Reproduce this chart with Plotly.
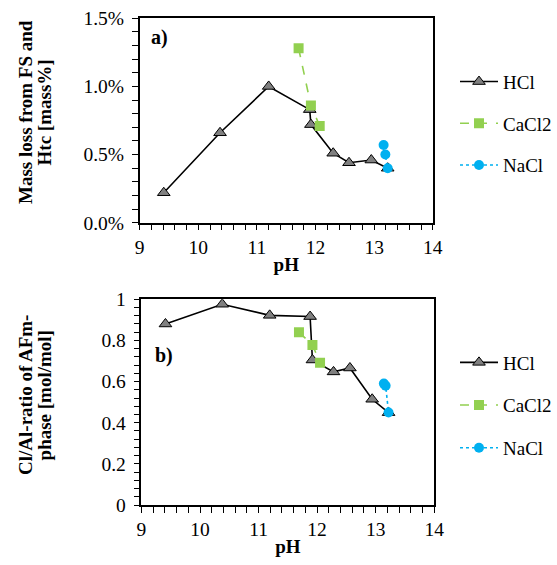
import plotly.graph_objects as go

# pH values and measured quantities for each acid / salt series
ph_hcl_a = [9.41, 10.37, 11.20, 11.90, 11.92, 12.30, 12.57, 12.95, 13.23]
loss_hcl = [0.22, 0.66, 1.00, 0.83, 0.72, 0.51, 0.44, 0.46, 0.40]
ph_cacl2_a = [11.71, 11.92, 12.07]
loss_cacl2 = [1.28, 0.86, 0.71]
ph_nacl_a = [13.16, 13.19, 13.23]
loss_nacl = [0.57, 0.50, 0.40]

ph_hcl_b = [9.41, 10.38, 11.19, 11.88, 11.92, 12.28, 12.56, 12.94, 13.22]
ratio_hcl = [0.88, 0.976, 0.922, 0.916, 0.705, 0.647, 0.666, 0.514, 0.449]
ph_cacl2_b = [11.69, 11.92, 12.05]
ratio_cacl2 = [0.84, 0.778, 0.692]
ph_nacl_b = [13.14, 13.17, 13.22]
ratio_nacl = [0.59, 0.58, 0.45]

series_names = ["HCl", "CaCl2", "NaCl"]

# y-axis titles, one entry per text line
title_a = ["Mass loss from FS and", "Htc [mass%]"]
title_b = ["Cl/Al-ratio of AFm-", "phase [mol/mol]"]

FONT = "Times New Roman, Liberation Serif, serif"
FS = 19
TICK_FS = 19.5

hcl_style = dict(mode="lines+markers",
                 line=dict(color="black", width=1.6),
                 marker=dict(symbol="triangle-up", size=11, color="#808080",
                             line=dict(color="black", width=1)))
cacl2_style = dict(mode="lines+markers",
                   line=dict(color="#92D050", width=1.6, dash="dash"),
                   marker=dict(symbol="square", size=10, color="#92D050"))
nacl_style = dict(mode="lines+markers",
                  line=dict(color="#00B0F0", width=1.6, dash="dot"),
                  marker=dict(symbol="circle", size=10, color="#00B0F0"))

fig = go.Figure()

panels = [
    ("x", "y", "legend", [(ph_hcl_a, loss_hcl), (ph_cacl2_a, loss_cacl2), (ph_nacl_a, loss_nacl)]),
    ("x2", "y2", "legend2", [(ph_hcl_b, ratio_hcl), (ph_cacl2_b, ratio_cacl2), (ph_nacl_b, ratio_nacl)]),
]
for xa, ya, leg, data in panels:
    for name, style, (xs, ys) in zip(series_names, [hcl_style, cacl2_style, nacl_style], data):
        fig.add_trace(go.Scatter(x=xs, y=ys, name=name, xaxis=xa, yaxis=ya,
                                 legend=leg, legendgroup=leg + name, **style))

xaxis_common = dict(range=[9, 14], dtick=1, showgrid=False, zeroline=False, automargin=False,
                    showline=True, linecolor="black", linewidth=1.5, mirror=True,
                    ticks="outside", ticklen=6, tickwidth=1, tickcolor="black",
                    minor=dict(dtick=0.2, ticks="outside", ticklen=6, tickcolor="black", tickwidth=1),
                    tickfont=dict(family=FONT, size=TICK_FS, color="black"),
                    title=dict(text="<b>pH</b>", font=dict(family=FONT, size=FS, color="black"),
                               standoff=1))
yaxis_common = dict(showgrid=False, zeroline=False, automargin=False,
                    showline=True, linecolor="black", linewidth=1.5, mirror=True,
                    ticks="outside", ticklen=6, tickwidth=1, tickcolor="black",
                    ticklabelstandoff=4,
                    tickfont=dict(family=FONT, size=TICK_FS, color="black"))


def title_lines(lines, yc):
    # rotated title, drawn line by line at a fixed spacing
    out = []
    for i, line in enumerate(lines):
        out.append(dict(text="<b>" + line + "</b>", x=(25 + 19.5 * i) / 557, y=yc,
                        xref="paper", yref="paper", xanchor="center", yanchor="middle",
                        textangle=-90, showarrow=False,
                        font=dict(family=FONT, size=FS, color="black")))
    return out


legend_common = dict(xanchor="left", yanchor="top", itemwidth=38,
                     font=dict(family=FONT, size=FS, color="black"),
                     bgcolor="rgba(0,0,0,0)")

fig.update_layout(
    width=557, height=565,
    margin=dict(l=0, r=0, t=0, b=0),
    paper_bgcolor="white", plot_bgcolor="white",
    xaxis=dict(domain=[0.2513, 0.7785], anchor="y", **xaxis_common),
    yaxis=dict(domain=[0.6058, 0.9676], anchor="x", range=[0, 1.5], dtick=0.5,
               tickformat=".1f", ticksuffix="%",
               minor=dict(dtick=0.1, ticks="outside", ticklen=6, tickcolor="black", tickwidth=1),
               **yaxis_common),
    xaxis2=dict(domain=[0.2544, 0.781], anchor="y2", **xaxis_common),
    yaxis2=dict(domain=[0.1062, 0.4703], anchor="x2", range=[0, 1], dtick=0.2,
                minor=dict(dtick=0.04, ticks="outside", ticklen=6, tickcolor="black", tickwidth=1),
                **yaxis_common),
    legend=dict(x=0.818, y=0.889, tracegroupgap=14, **legend_common),
    legend2=dict(x=0.818, y=0.392, tracegroupgap=15, **legend_common),
    annotations=[
        dict(text="<b>a)</b>", x=0.03, y=0.97, xref="x domain", yref="y domain",
             xanchor="left", yanchor="top", showarrow=False,
             font=dict(family=FONT, size=FS + 1, color="black")),
        dict(text="<b>b)</b>", x=0.04, y=0.79, xref="x2 domain", yref="y2 domain",
             xanchor="left", yanchor="top", showarrow=False,
             font=dict(family=FONT, size=FS + 1, color="black")),
    ] + title_lines(title_a, 1 - 112 / 565) + title_lines(title_b, 1 - 395 / 565),
)

fig.write_html("out.html")
